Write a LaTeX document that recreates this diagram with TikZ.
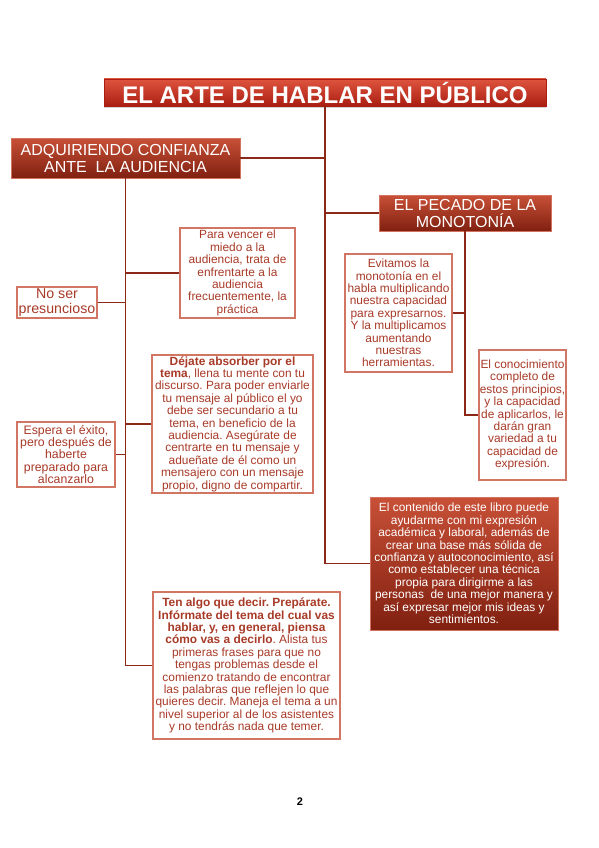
\documentclass[tikz,border=0pt]{standalone}
\usepackage{fontspec}
\setmainfont{Liberation Sans}
\usetikzlibrary{shadows}
\frenchspacing
\definecolor{boxborder}{RGB}{208,118,98}
\definecolor{textred}{RGB}{168,58,40}
\definecolor{linecol}{RGB}{140,40,24}
\definecolor{titletop}{RGB}{222,84,62}
\definecolor{titlebot}{RGB}{170,30,18}
\definecolor{headtop}{RGB}{200,80,55}
\definecolor{headbot}{RGB}{128,32,16}
\begin{document}
\begin{tikzpicture}[x=1pt,y=-1pt,
  conn/.style={draw=linecol,line width=1.7pt},
  txtbox/.style={draw=boxborder,line width=1.1pt,fill=white,text=textred,align=center,inner sep=0pt,
     font=\fontsize{11.9}{12.4}\selectfont},
  headbox/.style={draw=headtop!80!white,line width=0.6pt,top color=headtop,bottom color=headbot,text=white,
     align=center,inner sep=0pt,font=\fontsize{16}{17}\selectfont},
  titlebox/.style={draw=titlebot,line width=0.6pt,top color=titletop,bottom color=titlebot,text=white,
     inner sep=0pt,font=\fontsize{24}{24}\selectfont\bfseries,
     drop shadow={opacity=0.35,shadow xshift=0pt,shadow yshift=-2.5pt}}
]
\useasboundingbox (0,0) rectangle (599,848);
% title
\node[titlebox,minimum width=442pt,minimum height=27pt] (title) at (325,92.5) {EL ARTE DE HABLAR EN PÚBLICO};
% heads
\node[headbox,minimum width=229pt,minimum height=40pt] (adq) at (125.5,158) {ADQUIRIENDO CONFIANZA\\ANTE\ \ LA AUDIENCIA};
\node[headbox,minimum width=172pt,minimum height=36pt] (pec) at (465,213) {EL PECADO DE LA\\MONOTONÍA};
% left branch boxes
\node[txtbox,minimum width=115pt,minimum height=90pt] (vencer) at (237.5,273) {Para vencer el\\miedo a la\\audiencia, trata de\\enfrentarte a la\\audiencia\\frecuentemente, la\\práctica};
\node[txtbox,minimum width=80pt,minimum height=31pt,font=\fontsize{14.2}{15}\selectfont] (noser) at (57,302.5) {No ser\\presuncioso};
\node[txtbox,minimum width=161pt,minimum height=138pt] (dejate) at (232.5,424) {\textbf{Déjate absorber por el}\\\textbf{tema}, llena tu mente con tu\\discurso. Para poder enviarle\\tu mensaje al público el yo\\debe ser secundario a tu\\tema, en beneficio de la\\audiencia. Asegúrate de\\centrarte en tu mensaje y\\adueñate de él como un\\mensajero con un mensaje\\propio, digno de compartir.};
\node[txtbox,minimum width=98pt,minimum height=65pt,font=\fontsize{12.3}{12.4}\selectfont] (espera) at (66,454.5) {Espera el éxito,\\pero después de\\haberte\\preparado para\\alcanzarlo};
\node[txtbox,minimum width=187pt,minimum height=147pt] (tenalgo) at (246.5,665.5) {\textbf{Ten algo que decir. Prepárate.}\\\textbf{Infórmate del tema del cual vas}\\\textbf{hablar, y, en general, piensa}\\\textbf{cómo vas a decirlo}. Alista tus\\primeras frases para que no\\tengas problemas desde el\\comienzo tratando de encontrar\\las palabras que reflejen lo que\\quieres decir. Maneja el tema a un\\nivel superior al de los asistentes\\y no tendrás nada que temer.};
% right branch boxes
\node[txtbox,minimum width=107pt,minimum height=118pt] (evit) at (398.5,313) {Evitamos la\\monotonía en el\\habla multiplicando\\nuestra capacidad\\para expresarnos.\\Y la multiplicamos\\aumentando\\nuestras\\herramientas.};
\node[txtbox,minimum width=87pt,minimum height=130pt] (conoc) at (522.5,415) {El conocimiento\\completo de\\estos principios,\\y la capacidad\\de aplicarlos, le\\darán gran\\variedad a tu\\capacidad de\\expresión.};
\node[headbox,minimum width=188pt,minimum height=133pt,font=\fontsize{11.9}{12.4}\selectfont] (cont) at (464,563.5) {El contenido de este libro puede\\ayudarme con mi expresión\\académica y laboral, además de\\crear una base más sólida de\\confianza y autoconocimiento, así\\como establecer una técnica\\propia para dirigirme a las\\personas\ \ de una mejor manera y\\así expresar mejor mis ideas y\\sentimientos.};
% connectors
\draw[conn] (title.south) |- (cont.west);
\draw[conn] (adq.east) -| (title.south);
\draw[conn] (pec.west) -| (title.south);
\draw[conn] (adq.south) |- (tenalgo.west);
\draw[conn] (vencer.west) -| (adq.south);
\draw[conn] (noser.east) -| (adq.south);
\draw[conn] (dejate.west) -| (adq.south);
\draw[conn] (espera.east) -| (adq.south);
\draw[conn] (pec.south) |- (conoc.west);
\draw[conn] (evit.east) -| (pec.south);
% page number
\node[font=\fontsize{11}{12}\selectfont\bfseries] (pnum) at (300,802) {2};
\end{tikzpicture}
\end{document}
